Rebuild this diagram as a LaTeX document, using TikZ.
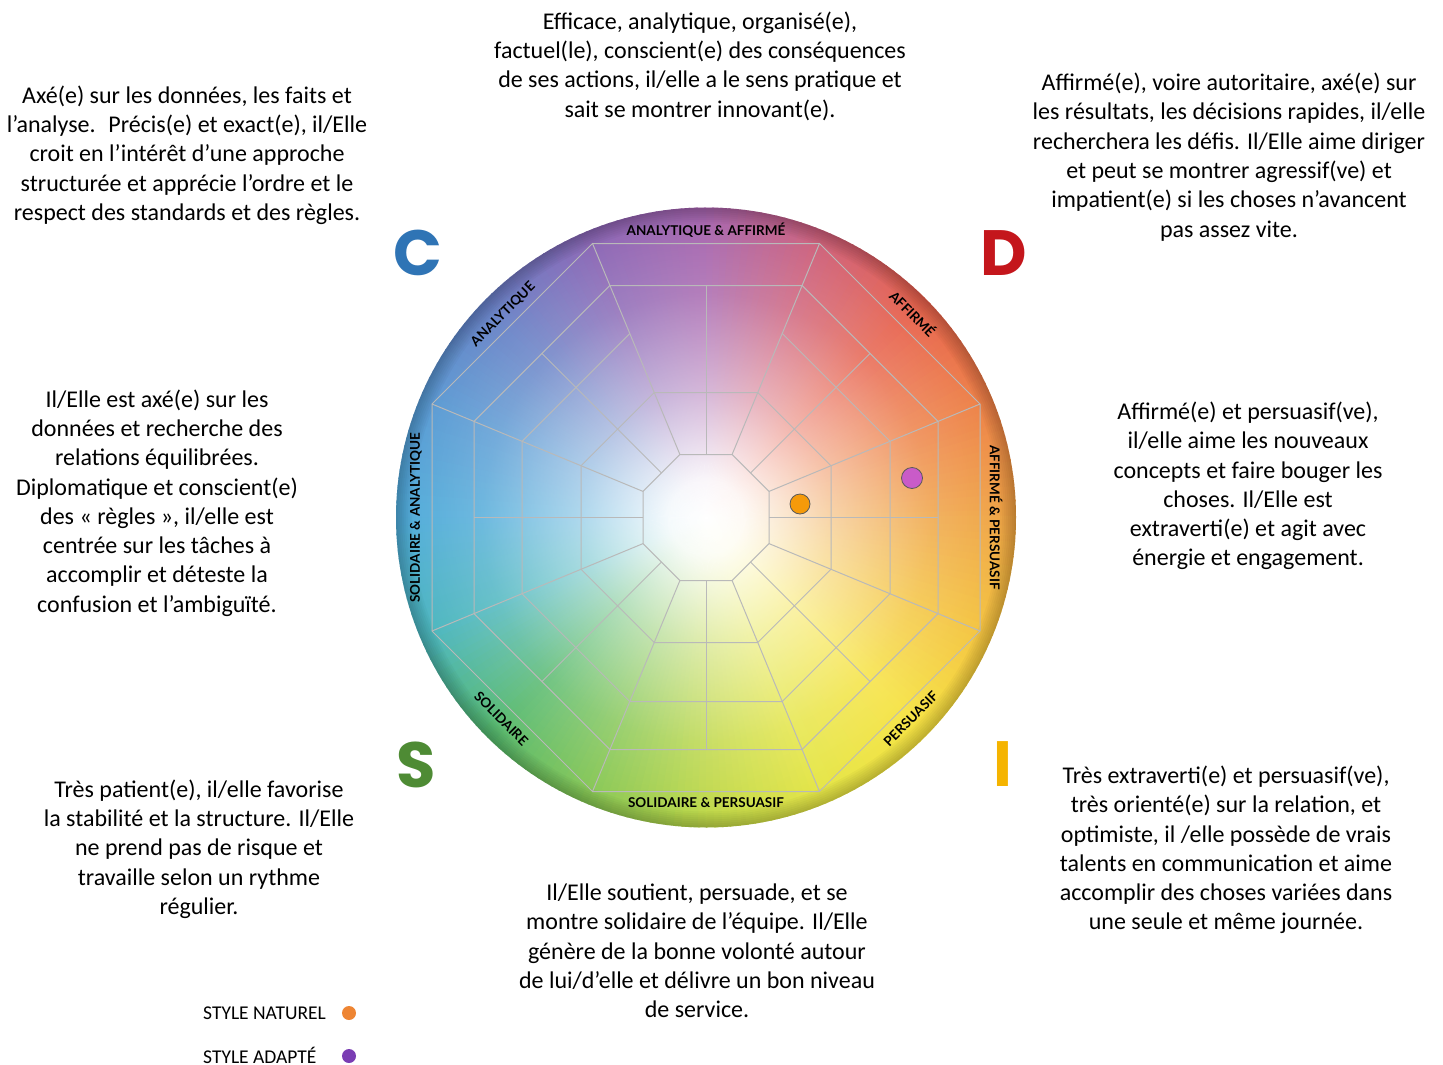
\documentclass[tikz,border=0pt]{standalone}
\usepackage{fontspec}
\setmainfont{Carlito}
\newfontfamily\labelfont{Lato}
\newfontfamily\letterfont{Poppins}
\usetikzlibrary{fadings}

\definecolor{discC}{HTML}{2F74B5}
\definecolor{discD}{HTML}{C4161C}
\definecolor{discS}{HTML}{4E8B34}
\definecolor{discI}{HTML}{F5B400}
\definecolor{natural}{HTML}{EE8533}
\definecolor{adapted}{HTML}{7A3DB3}
\definecolor{naturaldot}{HTML}{F59A0A}
\definecolor{adapteddot}{HTML}{C95BC8}
% colour wheel stops, every 22.5 degrees from the right, counter-clockwise
\definecolor{wheel0}{HTML}{EE9A30}
\definecolor{wheel1}{HTML}{EC7434}
\definecolor{wheel2}{HTML}{E5533C}
\definecolor{wheel3}{HTML}{C9526E}
\definecolor{wheel4}{HTML}{9E56A6}
\definecolor{wheel5}{HTML}{8058AE}
\definecolor{wheel6}{HTML}{5A74C0}
\definecolor{wheel7}{HTML}{4A90CF}
\definecolor{wheel8}{HTML}{40A4D6}
\definecolor{wheel9}{HTML}{3AAFB8}
\definecolor{wheel10}{HTML}{46B260}
\definecolor{wheel11}{HTML}{7CC244}
\definecolor{wheel12}{HTML}{B8D436}
\definecolor{wheel13}{HTML}{E2E332}
\definecolor{wheel14}{HTML}{F5E02E}
\definecolor{wheel15}{HTML}{F3BE2C}
\definecolor{wheel16}{HTML}{EE9A30}

\pgfdeclareradialshading{glowshade}{\pgfpointorigin}{color(0bp)=(white); color(3bp)=(white!95!black); color(10bp)=(white!58!black); color(18bp)=(white!24!black); color(26bp)=(white!6!black); color(32bp)=(black); color(50bp)=(black)}
\pgfdeclarefading{glowfade}{\pgfuseshading{glowshade}}

\begin{document}
\begin{tikzpicture}[x=1pt,y=1pt,
  blurb/.style={align=center,inner sep=0pt,font=\fontsize{24}{29.3}\selectfont},
  sector/.style={inner sep=0pt,font=\labelfont\fontsize{13.5}{14}\selectfont\bfseries},
  letter/.style={inner sep=0pt,font=\letterfont\fontsize{64}{64}\selectfont\bfseries},
  gridline/.style={gray!55,line width=1pt},
  dot/.style={circle,draw=black!65,line width=0.8pt,minimum size=20pt,inner sep=0pt},
  key/.style={anchor=west,inner sep=0pt,font=\fontsize{19.5}{20}\selectfont},
  keydot/.style={circle,minimum size=14pt,inner sep=0pt}]
\useasboundingbox (0,0) rectangle (1443,-1065);

\node[blurb] (cText) at (187,-155) {Axé(e) sur les données, les faits et\\l’analyse.~ Précis(e) et exact(e), il/Elle\\croit en l’intérêt d’une approche\\structurée et apprécie l’ordre et le\\respect des standards et des règles.};
\node[blurb] (topText) at (700,-66) {Efficace, analytique, organisé(e),\\factuel(le), conscient(e) des conséquences\\de ses actions, il/elle a le sens pratique et\\sait se montrer innovant(e).};
\node[blurb] (dText) at (1229,-157) {Affirmé(e), voire autoritaire, axé(e) sur\\les résultats, les décisions rapides, il/elle\\recherchera les défis. Il/Elle aime diriger\\et peut se montrer agressif(ve) et\\impatient(e) si les choses n’avancent\\pas assez vite.};
\node[blurb] (leftText) at (157,-503) {Il/Elle est axé(e) sur les\\données et recherche des\\relations équilibrées.\\Diplomatique et conscient(e)\\des « règles », il/elle est\\centrée sur les tâches à\\accomplir et déteste la\\confusion et l’ambiguïté.};
\node[blurb] (rightText) at (1248,-486) {Affirmé(e) et persuasif(ve),\\il/elle aime les nouveaux\\concepts et faire bouger les\\choses. Il/Elle est\\extraverti(e) et agit avec\\énergie et engagement.};
\node[blurb] (sText) at (199,-849) {Très patient(e), il/elle favorise\\la stabilité et la structure. Il/Elle\\ne prend pas de risque et\\travaille selon un rythme\\régulier.};
\node[blurb] (bottomText) at (697,-951) {Il/Elle soutient, persuade, et se\\montre solidaire de l’équipe. Il/Elle\\génère de la bonne volonté autour\\de lui/d’elle et délivre un bon niveau\\de service.};
\node[blurb] (iText) at (1226,-850) {Très extraverti(e) et persuasif(ve),\\très orienté(e) sur la relation, et\\optimiste, il /elle possède de vrais\\talents en communication et aime\\accomplir des choses variées dans\\une seule et même journée.};

\node[letter,text=discC] (C) at (418,-253) {C};
\node[letter,text=discD] (D) at (1004,-253) {D};
\node[letter,text=discS] (S) at (416,-765) {S};
\node[letter,text=discI] (I) at (1003,-764) {I};

\begin{scope}[shift={(706,-517.5)}]
  % colour wheel from thin slices
  \foreach \a in {0,1.5,...,358.5}{
    \pgfmathtruncatemacro\k{(\a+0.01)/22.5}
    \pgfmathtruncatemacro\n{\k+1}
    \pgfmathtruncatemacro\t{(\a+0.75-22.5*\k)/22.5*100}
    \colorlet{slice}{wheel\n!\t!wheel\k}
    \fill[slice] (0,0) -- (\a:310) arc[start angle=\a,end angle=\a+1.9,radius=310] -- cycle;
  }
  \fill[white,path fading=glowfade] (0,0) circle (310);
  \foreach \w in {2,4,...,16}
    \draw[black,opacity=0.028,line width=\w pt] (0,0) circle (310-\w/2);

  % octagon grid
  \foreach \r in {63,125,232,274}
    \draw[gridline] (22.5:\r/0.92388) \foreach \k in {1,...,7}{ -- (22.5+45*\k:\r/0.92388)} -- cycle;
  \draw[gridline] (112.5:184/0.92388) \foreach \k in {1,...,7}{ -- (112.5+45*\k:184/0.92388)};
  \foreach \k in {0,...,7}{
    \draw[gridline] (22.5+45*\k:63/0.92388) -- (22.5+45*\k:274/0.92388);
    \draw[gridline] (45*\k:63) -- (45*\k:232);
  }

  \node[sector] (topLabel) at (90:287.5) {ANALYTIQUE \& AFFIRMÉ};
  \node[sector,rotate=-45] (dLabel) at (44.6:291) {AFFIRMÉ};
  \node[sector,rotate=-90] (rightLabel) at (0:290) {AFFIRMÉ \& PERSUASIF};
  \node[sector,rotate=45] (iLabel) at (-44.5:287) {PERSUASIF};
  \node[sector] (bottomLabel) at (-90:285.5) {SOLIDAIRE \& PERSUASIF};
  \node[sector,rotate=-45] (sLabel) at (-135.5:287) {SOLIDAIRE};
  \node[sector,rotate=90] (leftLabel) at (180:290) {SOLIDAIRE \& ANALYTIQUE};
  \node[sector,rotate=45] (cLabel) at (135:287) {ANALYTIQUE};

  \node[dot,fill=naturaldot] (naturalPos) at (94,13.5) {};
  \node[dot,fill=adapteddot,minimum size=21pt] (adaptedPos) at (206,39.5) {};
\end{scope}

\node[key] (naturalKey) at (203,-1013) {STYLE NATUREL};
\node[keydot,fill=natural] (naturalMark) at (349,-1013) {};
\node[key] (adaptedKey) at (203,-1055) {STYLE ADAPTÉ};
\node[keydot,fill=adapted] (adaptedMark) at (349,-1056) {};
\end{tikzpicture}
\end{document}
